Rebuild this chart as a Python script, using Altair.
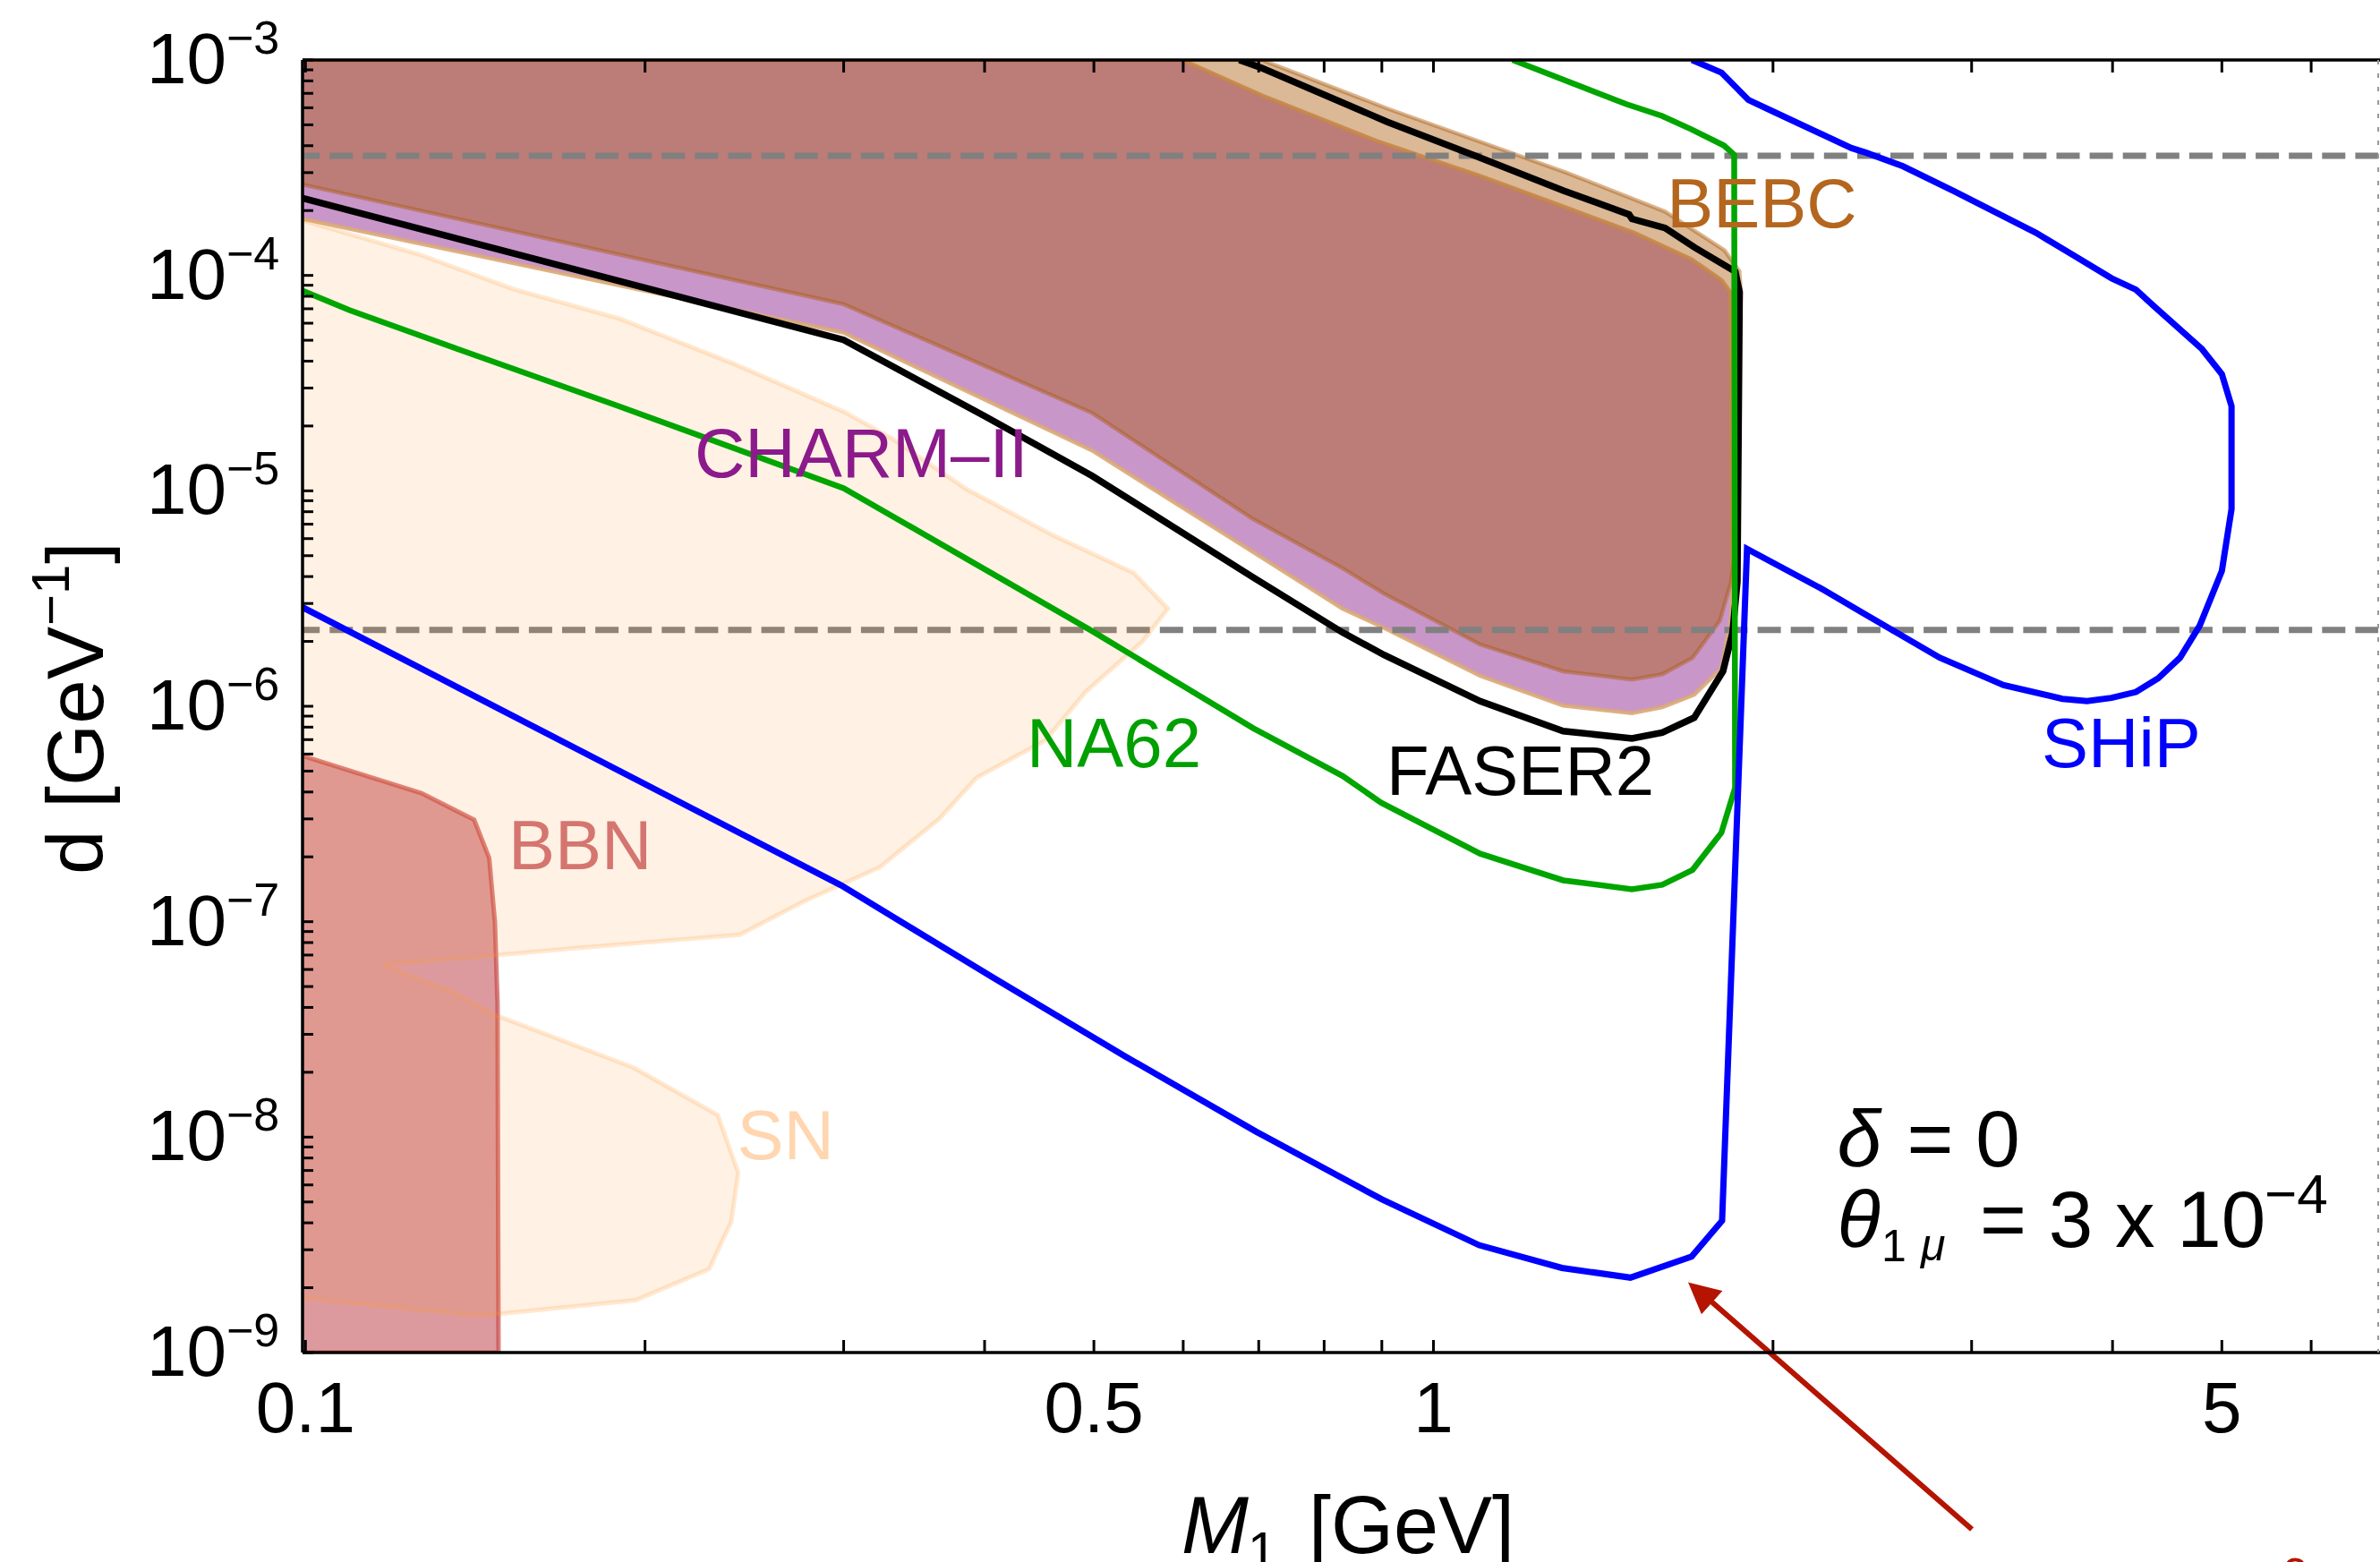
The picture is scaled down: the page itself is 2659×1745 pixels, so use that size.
import altair as alt
import pandas as pd

FONT = "Liberation Sans"

# ---------------- frame / scales ----------------
W, H = 2319, 1444
PAD = {"left": 338, "top": 67, "right": 2, "bottom": 234}
X_DOMAIN = [0.0994, 6.88]
Y_DOMAIN = [1e-9, 1e-3]
X0, YB, YT = X_DOMAIN[0], Y_DOMAIN[0], Y_DOMAIN[1]

XS = alt.Scale(type="log", domain=X_DOMAIN, nice=False)
YS = alt.Scale(type="log", domain=Y_DOMAIN, nice=False)

# ---------------- tick values / labels ----------------
x_ticks = [0.1, 0.2, 0.3, 0.4, 0.5, 0.6, 0.7, 0.8, 0.9, 1, 2, 3, 4, 5, 6]
x_label_vals = [0.1, 0.5, 1, 5]
x_label_text = ["0.1", "0.5", "1", "5"]
y_label_exps = [-3, -4, -5, -6, -7, -8, -9]
y_ticks = [m * 10.0 ** e for e in range(-9, -3) for m in range(1, 10)] + [1e-3]

# ---------------- regions ----------------
charm_M = [X0, 0.599, 0.7045, 0.8901, 1.0977, 1.3196, 1.5037, 1.6939, 1.8003, 1.8335,
           1.8409, 1.8358, 1.80, 1.7029, 1.5954, 1.4996, 1.3032, 1.0999, 0.9042, 0.8307,
           0.6918, 0.4980, 0.2997, X0]
charm_d = [YT, YT, 6.85e-4, 4.21e-4, 2.91e-4, 2.04e-4, 1.583e-4, 1.188e-4, 9.51e-5, 8.36e-5,
           3.78e-6, 2.58e-6, 1.50e-6, 1.132e-6, 9.90e-7, 9.29e-7, 1.007e-6, 1.385e-6, 2.31e-6, 2.84e-6,
           5.20e-6, 1.541e-5, 5.43e-5, 1.83e-4]

bebc_M = [X0, 0.7045, 0.9102, 1.3117, 1.6042, 1.8117, 1.8674, 1.8732, 1.8596, 1.8494,
          1.8358, 1.7946, 1.6970, 1.5954, 1.4996, 1.3032, 1.0999, 0.9042, 0.8307, 0.6918,
          0.4980, 0.2997, X0]
bebc_d = [YT, YT, 5.95e-4, 3.00e-4, 1.979e-4, 1.307e-4, 1.046e-4, 8.36e-5, 1.591e-5, 5.04e-6,
          3.78e-6, 2.50e-6, 1.677e-6, 1.407e-6, 1.329e-6, 1.453e-6, 1.936e-6, 3.33e-6, 4.37e-6, 7.40e-6,
          2.30e-5, 7.36e-5, 2.64e-4]

sn_M = [X0, 0.1264, 0.1528, 0.1903, 0.2397, 0.3001, 0.3311, 0.3856, 0.4601, 0.5422,
        0.5815, 0.5523, 0.4916, 0.4529, 0.3934, 0.3649, 0.3229, 0.2774, 0.2427, 0.1735,
        0.1173, 0.1349, 0.1467, 0.1954, 0.2320, 0.2419, 0.2385, 0.2279, 0.1962, 0.1427, X0]
sn_d = [1.80e-4, 1.246e-4, 8.64e-5, 6.27e-5, 3.89e-5, 2.33e-5, 1.75e-5, 1.017e-5, 6.21e-6, 4.16e-6,
        2.84e-6, 2.00e-6, 1.165e-6, 6.95e-7, 4.65e-7, 3.01e-7, 1.788e-7, 1.252e-7, 8.70e-8, 7.54e-8,
        6.28e-8, 4.74e-8, 3.72e-8, 2.10e-8, 1.266e-8, 6.84e-9, 4.04e-9, 2.44e-9, 1.75e-9, 1.48e-9, 1.79e-9]

bbn_M = [X0, 0.1267, 0.1411, 0.1455, 0.1472, 0.1480, 0.1483, X0]
bbn_d = [5.88e-7, 3.95e-7, 2.97e-7, 1.975e-7, 9.99e-8, 4.16e-8, YB, YB]

# ---------------- sensitivity curves ----------------
faser_M = [X0, 0.3000, 0.3999, 0.4980, 0.6918, 0.8307, 0.9042, 1.0999, 1.3032, 1.4996,
           1.5954, 1.7029, 1.8059, 1.8416, 1.8596, 1.8681, 1.8514, 1.7041, 1.6042, 1.4999,
           1.4909, 1.3040, 1.0926, 0.9102, 0.7045, 0.6728]
faser_d = [2.285e-4, 5.02e-5, 2.225e-5, 1.175e-5, 3.97e-6, 2.20e-6, 1.73e-6, 1.056e-6, 7.67e-7, 7.09e-7,
           7.55e-7, 8.85e-7, 1.453e-6, 2.20e-6, 3.78e-6, 8.37e-5, 1.043e-4, 1.349e-4, 1.661e-4, 1.828e-4,
           1.917e-4, 2.476e-4, 3.57e-4, 5.16e-4, 9.18e-4, YT]

na62_M = [X0, 0.1094, 0.1363, 0.1888, 0.3000, 0.3763, 0.4980, 0.6918, 0.8307, 0.8985,
          1.0999, 1.3032, 1.4996, 1.5954, 1.6970, 1.80, 1.8510, 1.8477, 1.8092, 1.6939,
          1.5945, 1.4818, 1.1754]
na62_d = [8.50e-5, 6.90e-5, 4.56e-5, 2.49e-5, 1.029e-5, 5.20e-6, 2.235e-6, 7.92e-7, 4.75e-7, 3.57e-7,
          2.07e-7, 1.556e-7, 1.414e-7, 1.483e-7, 1.739e-7, 2.59e-7, 4.18e-7, 3.63e-4, 4.01e-4, 4.76e-4,
          5.50e-4, 6.24e-4, YT]

ship_M = [X0, 0.2985, 0.4075, 0.5327, 0.6966, 0.9002, 1.0978, 1.2998, 1.4950, 1.6939,
          1.8026, 1.8967, 2.2110, 2.3951, 2.8106, 3.2026, 3.6109, 3.7971, 3.9909, 4.1962,
          4.3908, 4.5914, 4.7793, 5.0001, 5.0998, 5.0998, 5.0, 4.8012, 4.3469, 4.1962,
          3.9916, 3.6661, 3.4184, 2.8973, 2.6082, 2.4193, 2.3474, 2.0, 1.9023, 1.8003, 1.6951]
ship_d = [2.88e-6, 1.474e-7, 5.48e-8, 2.375e-8, 1.059e-8, 5.14e-9, 3.15e-9, 2.47e-9, 2.227e-9, 2.79e-9,
          4.09e-9, 5.38e-6, 3.50e-6, 2.74e-6, 1.682e-6, 1.254e-6, 1.083e-6, 1.057e-6, 1.094e-6, 1.165e-6,
          1.349e-6, 1.682e-6, 2.37e-6, 4.25e-6, 8.23e-6, 2.47e-5, 3.48e-5, 4.55e-5, 7.24e-5, 8.58e-5,
          9.70e-5, 1.268e-4, 1.580e-4, 2.452e-4, 3.21e-4, 3.71e-4, 3.90e-4, 5.77e-4, 6.52e-4, 8.74e-4, YT]

dashed_d = [3.59e-4, 2.26e-6]

# ---------------- labels ----------------
label_text = ["CHARM\u2013II", "BEBC", "NA62", "FASER2", "SHiP", "BBN", "SN"]
label_M = [0.2213, 1.6101, 0.4358, 0.9085, 3.4616, 0.1513, 0.2413]
label_d = [1.159e-5, 1.667e-4, 5.21e-7, 3.87e-7, 5.21e-7, 1.757e-7, 7.90e-9]
label_color = ["#8B1A8B", "#B4661E", "#00A000", "#000000", "#0000FF", "#D57570", "#FFD6B0"]

ann_M = 2.28
ann_line_d = [7.32e-9, 3.09e-9]

arrow_M = [3.0018, 1.7653]
arrow_d = [1.51e-10, 1.718e-9]
head_M = [1.6837, 1.7290, 1.8026]
head_d = [2.114e-9, 1.517e-9, 1.936e-9]


def X():
    return alt.X("M:Q", scale=XS, axis=None)


def Y():
    return alt.Y("d:Q", scale=YS, axis=None)


def polygon(M, d, fill, fill_op, stroke, stroke_op, sw):
    df = pd.DataFrame({"M": M, "d": d, "i": list(range(len(M)))})
    return alt.Chart(df).mark_line(
        fill=fill, fillOpacity=fill_op, stroke=stroke, strokeOpacity=stroke_op,
        strokeWidth=sw, clip=True
    ).encode(x=X(), y=Y(), order="i:Q")


def curve(M, d, color, sw, clip=True):
    df = pd.DataFrame({"M": M, "d": d, "i": list(range(len(M)))})
    return alt.Chart(df).mark_line(stroke=color, strokeWidth=sw, clip=clip).encode(
        x=X(), y=Y(), order="i:Q")


one = pd.DataFrame({"k": [0]})
layers = []

# regions
layers.append(polygon(charm_M, charm_d, "#87168A", 0.45, "#D9A877", 0.9, 4.5))
layers.append(polygon(bebc_M, bebc_d, "#AB5A0B", 0.43, "#AB5A0B", 0.45, 4.5))

# dashed reference lines
layers.append(alt.Chart(pd.DataFrame({"d": dashed_d})).mark_rule(
    color="#808080", strokeWidth=7, strokeDash=[26, 11.1], strokeDashOffset=6.8
).encode(y=Y(), x=alt.value(0), x2=alt.value(W)))

layers.append(polygon(bbn_M, bbn_d, "#C5575F", 0.6, "#C84A48", 0.7, 5))
layers.append(polygon(sn_M, sn_d, "#FF9933", 0.135, "#FF9933", 0.22, 5))

# curves
layers.append(curve(faser_M, faser_d, "#000000", 7.5))
layers.append(curve(na62_M, na62_d, "#00A500", 6.5))
layers.append(curve(ship_M, ship_d, "#0000FF", 7))

# region labels
lab_df = pd.DataFrame({"M": label_M, "d": label_d, "t": label_text, "c": label_color})
layers.append(alt.Chart(lab_df).mark_text(
    font=FONT, fontSize=78, align="left", baseline="alphabetic"
).encode(x=X(), y=Y(), text="t:N", color=alt.Color("c:N", scale=None)))

# annotation  delta = 0 ; theta_{1 mu} = 3 x 10^-4
def ann_piece(txt, line, size, dx, dy, italic=False):
    df = pd.DataFrame({"M": [ann_M], "d": [ann_line_d[line]], "t": [txt]})
    return alt.Chart(df).mark_text(
        font=FONT, fontSize=size, align="left", baseline="alphabetic", dx=dx, dy=dy,
        fontStyle="italic" if italic else "normal", color="black"
    ).encode(x=X(), y=Y(), text="t:N")

layers.append(ann_piece("\u03b4", 0, 89, 0, 0, True))
layers.append(ann_piece("= 0", 0, 89, 78, 0))
layers.append(ann_piece("\u03b8", 1, 89, 0, 0, True))
layers.append(ann_piece("1", 1, 50, 49.5, 16))
layers.append(ann_piece("\u03bc", 1, 50, 93.5, 15, True))
layers.append(ann_piece("= 3 x 10", 1, 89, 159.5, 0))
layers.append(ann_piece("\u22124", 1, 62, 477.5, -38))

# red arrow
layers.append(curve(arrow_M, arrow_d, "#B41400", 6, clip=False))
layers.append(alt.Chart(pd.DataFrame({"M": head_M, "d": head_d, "i": [0, 1, 2]})).mark_line(
    fill="#B41400", stroke="#B41400", strokeWidth=1, clip=False
).encode(x=X(), y=Y(), order="i:Q"))
layers.append(alt.Chart(pd.DataFrame({"M": [5.66], "d": [7.9e-11], "t": ["2"]})).mark_text(
    font=FONT, fontSize=50, align="left", baseline="alphabetic", color="#B41400"
).encode(x=X(), y=Y(), text="t:N"))

# frame
layers.append(alt.Chart(one).mark_rule(color="black", strokeWidth=3.5).encode(
    x=alt.value(0), y=alt.value(0), y2=alt.value(H)))
layers.append(alt.Chart(one).mark_rule(color="black", strokeWidth=3.5).encode(
    x=alt.value(0), x2=alt.value(W + 2), y=alt.value(0)))
layers.append(alt.Chart(one).mark_rule(color="black", strokeWidth=3.5).encode(
    x=alt.value(0), x2=alt.value(W + 2), y=alt.value(H)))
layers.append(alt.Chart(one).mark_rule(color="#999999", strokeWidth=2, strokeDash=[5, 10]).encode(
    x=alt.value(W), y=alt.value(0), y2=alt.value(H)))

# ticks (inward)
xt = pd.DataFrame({"M": x_ticks})
layers.append(alt.Chart(xt).mark_rule(color="black", strokeWidth=3).encode(
    x=X(), y=alt.value(H), y2=alt.value(H - 14)))
layers.append(alt.Chart(xt).mark_rule(color="black", strokeWidth=3).encode(
    x=X(), y=alt.value(0), y2=alt.value(14)))
yt = pd.DataFrame({"d": y_ticks})
layers.append(alt.Chart(yt).mark_rule(color="black", strokeWidth=3).encode(
    y=Y(), x=alt.value(0), x2=alt.value(12)))

# tick labels
xl = pd.DataFrame({"M": x_label_vals, "t": x_label_text})
layers.append(alt.Chart(xl).mark_text(
    font=FONT, fontSize=80, align="center", baseline="alphabetic", color="black"
).encode(x=X(), y=alt.value(1600 - PAD["top"]), text="t:N"))

yl = pd.DataFrame({"d": [10.0 ** e for e in y_label_exps],
                   "b": ["10"] * len(y_label_exps),
                   "s": ["\u2212" + str(-e) for e in y_label_exps]})
layers.append(alt.Chart(yl).mark_text(
    font=FONT, fontSize=80, align="right", baseline="alphabetic", dy=26, color="black"
).encode(y=Y(), x=alt.value(253 - PAD["left"]), text="b:N"))
layers.append(alt.Chart(yl).mark_text(
    font=FONT, fontSize=52, align="left", baseline="alphabetic", dy=-7, color="black"
).encode(y=Y(), x=alt.value(253 - PAD["left"]), text="s:N"))

# axis titles
def title_piece(txt, xpx, ypx, size, italic=False, angle=0):
    df = pd.DataFrame({"t": [txt]})
    return alt.Chart(df).mark_text(
        font=FONT, fontSize=size, align="left", baseline="alphabetic", angle=angle,
        fontStyle="italic" if italic else "normal", color="black"
    ).encode(x=alt.value(xpx - PAD["left"]), y=alt.value(ypx - PAD["top"]), text="t:N")

layers.append(title_piece("M", 1320, 1735, 90, italic=True))
layers.append(title_piece("1", 1394, 1752, 58))
layers.append(title_piece("[GeV]", 1462, 1735, 90))

layers.append(title_piece("d [GeV", 115, 977, 89, angle=270))
layers.append(title_piece("\u22121", 77, 699, 60, angle=270))
layers.append(title_piece("]", 115, 630, 89, angle=270))

chart = alt.layer(*layers).properties(
    width=W, height=H, padding=PAD,
    autosize=alt.AutoSizeParams(type="none")
).configure_view(stroke=None)

chart.save("out.html", embed_options={"renderer": "svg", "actions": False})
